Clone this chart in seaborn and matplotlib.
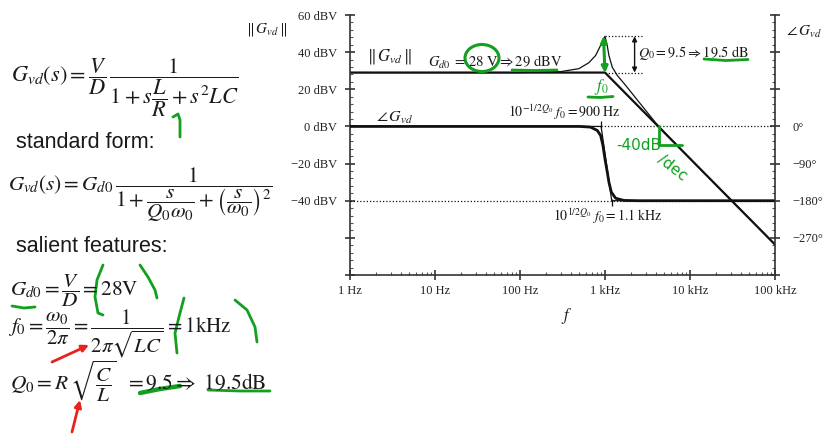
import matplotlib
matplotlib.use('Agg')
import matplotlib.pyplot as plt
import seaborn as sns
from matplotlib.ticker import FixedLocator, FixedFormatter, LogLocator, NullFormatter, MultipleLocator
from matplotlib.patches import Ellipse, FancyArrowPatch

# ---------------- data ----------------
mag_freq = [1, 100, 300, 492, 646, 775, 887, 950, 1000, 1062, 1112, 1217, 1393, 1750, 2512, 4000, 6000, 10000, 100000]
mag_db = [29, 29, 29.5, 31.1, 34.3, 38.2, 43.6, 46.8, 48.5, 43.6, 38.2, 31.9, 27.5, 22.1, 13.1, 1.6, -6.9, -17.3, -63.6]

mag_asym_freq = [1, 1000, 100000]
mag_asym_db = [29, 29, -63.6]

phase_freq = [1, 500, 676, 811, 888, 945, 998, 1064, 1112, 1186, 1333, 1671, 2500, 100000]
phase_deg = [0, 0, -1.7, -9.7, -21.8, -46, -78, -111, -135, -159, -174, -179.3, -180, -180]

phase_asym_freq = [1, 900, 1200, 100000]
phase_asym_deg = [0, 0, -180, -180]

f0_hz = 1000
gd0_db = 29
q0_db = 19.5
f_low_hz = 900
f_high_hz = 1200

x_ticks = [1, 10, 100, 1000, 10000, 100000]
x_labels = ['1 Hz', '10 Hz', '100 Hz', '1 kHz', '10 kHz', '100 kHz']
y_ticks = [-80, -60, -40, -20, 0, 20, 40, 60]
y_labels = ['', '', '\u221240 dBV', '\u221220 dBV', '0 dBV', '20 dBV', '40 dBV', '60 dBV']
p_ticks = [-360, -270, -180, -90, 0, 90, 180, 270]
p_labels = ['', '\u2212270\u00b0', '\u2212180\u00b0', '\u221290\u00b0', '0\u00b0', '', '', '']

# ---------------- style ----------------
sns.set_style('ticks')
plt.rcParams['font.family'] = ['Liberation Serif', 'DejaVu Serif']
plt.rcParams['mathtext.fontset'] = 'stix'

W, H = 825, 434
fig = plt.figure(figsize=(W / 100, H / 100), dpi=100)
fig.patch.set_facecolor('white')

L, R, T, B = 350, 775, 15, 275
ax = fig.add_axes([L / W, 1 - B / H, (R - L) / W, (B - T) / H])
ax.set_facecolor('none')
ax.set_xscale('log')
ax.set_xlim(1, 100000)
ax.set_ylim(-80, 60)

dot = (0, (1, 1.6))
ink = '#111111'

sns.lineplot(x=mag_freq, y=mag_db, ax=ax, color=ink, lw=0.9, sort=False)
sns.lineplot(x=mag_asym_freq, y=mag_asym_db, ax=ax, color=ink, lw=1.6, sort=False)

# peak reference lines + dimension arrow
x_dim_end = 2850
x_dim = 2230
ax.hlines([gd0_db + q0_db, gd0_db], f0_hz, x_dim_end, colors=ink, linestyles=[dot], lw=0.9)
ax.add_patch(FancyArrowPatch((x_dim, gd0_db + q0_db), (x_dim, gd0_db), arrowstyle='<|-|>',
                             mutation_scale=7, lw=1.0, color=ink, shrinkA=0, shrinkB=0))

ax.spines['top'].set_visible(False)
ax.spines['right'].set_visible(False)
for s in ['left', 'bottom']:
    ax.spines[s].set_color('#333333')
    ax.spines[s].set_linewidth(1.2)

ax.xaxis.set_major_locator(FixedLocator(x_ticks))
ax.xaxis.set_major_formatter(FixedFormatter(x_labels))
ax.xaxis.set_minor_locator(LogLocator(base=10, subs=range(2, 10), numticks=20))
ax.xaxis.set_minor_formatter(NullFormatter())
ax.yaxis.set_major_locator(FixedLocator(y_ticks))
ax.yaxis.set_major_formatter(FixedFormatter(y_labels))
ax.yaxis.set_minor_locator(MultipleLocator(4))
ax.tick_params(which='major', direction='inout', length=7, width=1.2, colors='#333333',
               labelsize=9, labelcolor='#222222')
ax.tick_params(which='minor', direction='in', length=2.5, width=0.8, colors='#555555')
ax.tick_params(axis='x', which='major', pad=4)
ax.tick_params(axis='y', which='major', pad=6)

ax2 = ax.twinx()
ax2.set_facecolor('none')
ax2.set_ylim(-360, 270)
ax2.set_xlim(1, 100000)
sns.lineplot(x=phase_freq, y=phase_deg, ax=ax2, color=ink, lw=2.0, sort=False)
sns.lineplot(x=phase_asym_freq, y=phase_asym_deg, ax=ax2, color=ink, lw=0.9, sort=False)
ax2.hlines(0, f_low_hz, 100000, colors=ink, linestyles=[dot], lw=0.9)
ax2.hlines(-180, 1, 100000, colors=ink, linestyles=[dot], lw=0.9)
ax2.vlines(f_low_hz, -5, 12, colors=ink, lw=0.9)
ax2.vlines(f_high_hz, -194, -177, colors=ink, lw=0.9)
for s in ['top', 'left', 'bottom']:
    ax2.spines[s].set_visible(False)
ax2.spines['right'].set_color('#333333')
ax2.spines['right'].set_linewidth(1.2)
ax2.yaxis.set_major_locator(FixedLocator(p_ticks))
ax2.yaxis.set_major_formatter(FixedFormatter(p_labels))
ax2.yaxis.set_minor_locator(MultipleLocator(18))
ax2.tick_params(which='major', direction='inout', length=7, width=1.2, colors='#333333',
                labelsize=9, labelcolor='#222222', pad=9)
ax2.tick_params(which='minor', direction='in', length=2.5, width=0.8, colors='#555555')
ax2.set_ylabel('')
ax.set_ylabel('')
ax.set_xlabel('')

# ---------------- overlay in pixel coordinates ----------------
ov = fig.add_axes([0, 0, 1, 1])
ov.set_xlim(0, W)
ov.set_ylim(H, 0)
ov.axis('off')
ov.patch.set_alpha(0)

txt = '#1a1a1a'
# plot labels
ov.text(246, 30, r'$\Vert\, G_{vd}\, \Vert$', fontsize=11, color=txt, va='center', ha='left')
ov.text(786, 32, r'$\angle\, G_{vd}$', fontsize=11, color=txt, va='center', ha='left')
ov.text(367, 56, r'$\Vert\, G_{vd}\, \Vert$', fontsize=12, color=txt, va='center', ha='left')
ov.text(428, 62, r'$G_{d0}\;=\,28\ \mathrm{V} \Rightarrow 29\ \mathrm{dBV}$', fontsize=10.5, color=txt, va='center', ha='left')
ov.text(376, 118, r'$\angle\, G_{vd}$', fontsize=11.5, color=txt, va='center', ha='left')
ov.text(508, 112, r'$10^{-1/2Q_0}\ f_0 = 900\ \mathrm{Hz}$', fontsize=10, color=txt, va='center', ha='left')
ov.text(638, 53, r'$Q_0 = 9.5 \Rightarrow 19.5\ \mathrm{dB}$', fontsize=10.3, color=txt, va='center', ha='left')
ov.text(553, 216, r'$10^{1/2Q_0}\ f_0 = 1.1\ \mathrm{kHz}$', fontsize=10, color=txt, va='center', ha='left')
ov.text(567, 316, r'$f$', fontsize=12, color=txt, va='center', ha='center')

# left slide equations
sans = ['Liberation Sans', 'DejaVu Sans']
ov.text(11, 88, r'$G_{vd}(s) = \dfrac{V}{D}\,\dfrac{1}{1 + s\dfrac{L}{R} + s^2 LC}$', fontsize=16.1, color=txt, va='center', ha='left')
ov.text(16, 142, 'standard form:', fontsize=15.5, family=sans, color=txt, va='center', ha='left')
ov.text(8, 195, r'$G_{vd}(s) = G_{d0}\,\dfrac{1}{1 + \dfrac{s}{Q_0\omega_0} + \left(\dfrac{s}{\omega_0}\right)^2}$', fontsize=15.3, color=txt, va='center', ha='left')
ov.text(16, 247, 'salient features:', fontsize=15.5, family=sans, color=txt, va='center', ha='left')
ov.text(10, 291, r'$G_{d0} = \dfrac{V}{D} = 28\mathrm{V}$', fontsize=15.3, color=txt, va='center', ha='left')
ov.text(8, 333.5, r'$f_0 = \dfrac{\omega_0}{2\pi} = \dfrac{1}{2\pi\sqrt{LC}} = 1\mathrm{kHz}$', fontsize=15.0, color=txt, va='center', ha='left')
ov.text(10, 381, r'$Q_0 = R\,\sqrt{\dfrac{C}{L}}\ \ = 9.5 \Rightarrow\ 19.5\mathrm{dB}$', fontsize=15.4, color=txt, va='center', ha='left')

# ---------------- hand annotations ----------------
g = '#12a01e'
r = '#e8231d'
def stroke(pts, c=g, lw=2.0):
    xs, ys = zip(*pts)
    ov.plot(xs, ys, color=c, lw=lw, solid_capstyle='round', solid_joinstyle='round')

ov.add_patch(Ellipse((482, 58), 34, 27, fill=False, ec=g, lw=2.2))
stroke([(512, 70), (535, 70.5), (557, 70)])
ov.add_patch(FancyArrowPatch((603.5, 36), (605, 73), arrowstyle='<|-|>', mutation_scale=9, lw=2.2, color=g, shrinkA=0, shrinkB=0))
ov.text(601, 87, r'$f_0$', fontsize=12, color=g, va='center', ha='center')
stroke([(588, 97), (600, 97.5), (613, 96.5)])
stroke([(659, 126), (659, 145), (682, 145)])
ov.text(616, 146, '-40dB', fontsize=11, color=g, family=['DejaVu Sans'], va='center', ha='left')
ov.text(664, 152, '/dec', fontsize=11, color=g, family=['DejaVu Sans'], va='top', ha='left', rotation=-38, rotation_mode='anchor')
stroke([(704, 59), (726, 60.5), (748, 59.5)])

stroke([(173, 117), (178, 114), (180, 120), (180, 137)])
stroke([(103, 265), (97, 280), (95, 297), (98, 313), (103, 315)])
stroke([(140, 265), (148, 277), (155, 290), (157, 298)])
stroke([(184, 298), (180, 313), (175, 333), (177, 353)])
stroke([(235, 300), (247, 310), (255, 327), (257, 342)])
stroke([(12, 306), (24, 308), (35, 307)])
stroke([(140, 393), (160, 389), (180, 386)], lw=3.2)
stroke([(208, 390), (240, 391), (270, 391)])
ov.add_patch(FancyArrowPatch((52, 362), (89, 345), arrowstyle='-|>', mutation_scale=10, lw=2.0, color=r, shrinkA=0, shrinkB=0))
ov.add_patch(FancyArrowPatch((72, 432), (80, 400), arrowstyle='-|>', mutation_scale=10, lw=2.0, color=r, shrinkA=0, shrinkB=0))

fig.savefig('out.png', dpi=100, facecolor='white')
